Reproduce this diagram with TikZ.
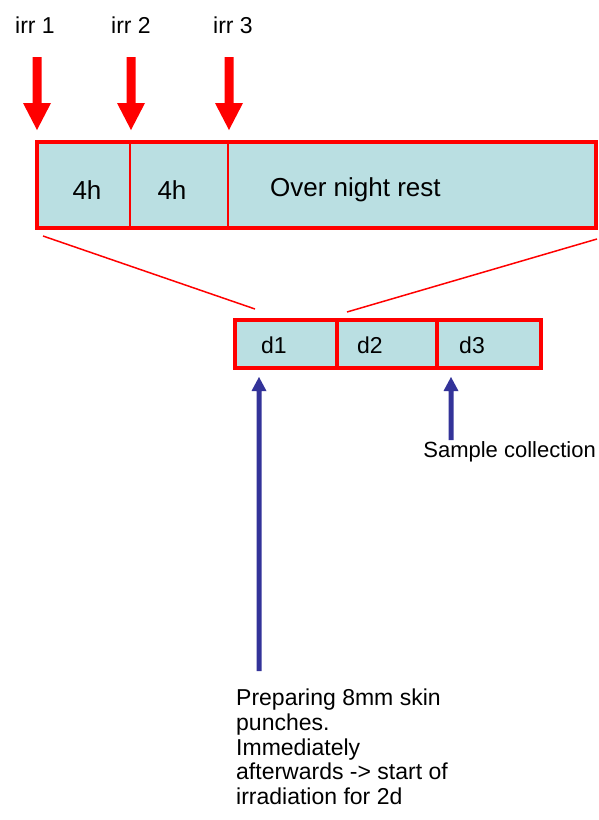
\documentclass[tikz,border=0pt]{standalone}
\usepackage{fontspec}
\setmainfont{Liberation Sans}
\definecolor{boxfill}{HTML}{BADFE2}
\definecolor{myred}{HTML}{FF0000}
\definecolor{myblue}{HTML}{333399}
\begin{document}
\begin{tikzpicture}[x=1pt,y=-1pt,
  lbl/.style={inner sep=0pt, font=\fontsize{23}{24.6}\selectfont},
  biglbl/.style={inner sep=0pt, font=\fontsize{26}{30}\selectfont},
  frame/.style={draw=myred, line width=4pt, fill=boxfill},
  divider/.style={draw=myred, line width=1.8pt},
  zoomline/.style={draw=myred, line width=1.5pt}]
\useasboundingbox (0,0) rectangle (598,820);
% top timeline box
\path[frame] (37,142) rectangle (596,228);
\draw[divider] (130,142) -- (130,228);
\draw[divider] (228,142) -- (228,228);
\node[biglbl] (h1) at (87,190) {4h};
\node[biglbl] (h2) at (172,190) {4h};
\node[biglbl, anchor=west] (rest) at (270,190) {Over night rest};
% irradiation labels and arrows
\node[lbl] (irr1) at (35,25) {irr 1};
\node[lbl] (irr2) at (131,25) {irr 2};
\node[lbl] (irr3) at (233,25) {irr 3};
\foreach \x/\n in {37/a1,131/a2,229/a3}{
  \coordinate (\n) at (\x,130);
  \fill[myred] (\x-4.5,57) -- (\x+4.5,57) -- (\x+4.5,103) -- (\x+14,103) -- (\n) -- (\x-14,103) -- (\x-4.5,103) -- cycle;
}
% zoom lines
\coordinate (zl1) at (43,236);
\coordinate (zl2) at (255,309);
\coordinate (zr1) at (597,239);
\coordinate (zr2) at (347,312);
\draw[zoomline] (zl1) -- (zl2);
\draw[zoomline] (zr1) -- (zr2);
% lower day box
\path[frame] (235,320) rectangle (541,368);
\draw[frame, fill=none] (337,320) -- (337,368);
\draw[frame, fill=none] (437,320) -- (437,368);
\node[lbl] (d1) at (274,345) {d1};
\node[lbl] (d2) at (370,345) {d2};
\node[lbl] (d3) at (472,345) {d3};
% blue arrows
\coordinate (b1) at (259,377);
\coordinate (b2) at (451,377);
\fill[myblue] (b1) -- (266.5,391) -- (261.5,391) -- (261.5,671) -- (256.5,671) -- (256.5,391) -- (251.5,391) -- cycle;
\fill[myblue] (b2) -- (458.5,391) -- (453.5,391) -- (453.5,440) -- (448.5,440) -- (448.5,391) -- (443.5,391) -- cycle;
\node[lbl, anchor=east, font=\fontsize{22}{24.6}\selectfont] (sc) at (596,452) {Sample collection};
\node[lbl, anchor=north west, align=left] (prep) at (236,689) {Preparing 8mm skin\\punches.\\Immediately\\afterwards -> start of\\irradiation for 2d};
\end{tikzpicture}
\end{document}
